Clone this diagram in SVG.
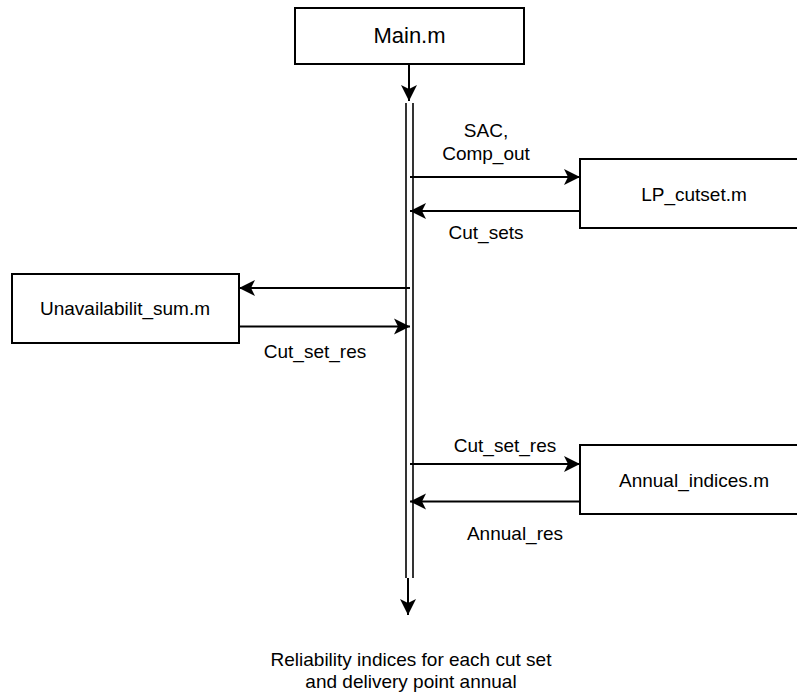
<svg xmlns="http://www.w3.org/2000/svg" width="797" height="693" viewBox="0 0 797 693">
  <style>
    .box { fill: #ffffff; stroke: #000000; stroke-width: 2; }
    .txt { font-family: "Liberation Sans", Arial, Helvetica, sans-serif; fill: #000000; text-anchor: middle; }
    .node-txt { font-size: 19px; }
    .lbl { font-size: 19px; }
    .wire { fill: none; stroke: #000000; stroke-width: 2; }
    .bus { fill: none; stroke: #000000; stroke-width: 1.6; }
  </style>
  <defs>
    <marker id="arrow" markerUnits="userSpaceOnUse" markerWidth="18" markerHeight="18" viewBox="-17 -9 18 18" refX="0" refY="0" orient="auto">
      <path d="M0,0 L-16,-8 L-12,0 L-16,8 Z" fill="#000000"/>
    </marker>
  </defs>

  <rect width="797" height="693" fill="#ffffff"/>

  <!-- connectors -->
  <g id="connectors">
    <!-- main flow down from Main.m into the bus -->
    <line class="wire" x1="409" y1="64" x2="409" y2="101" marker-end="url(#arrow)"/>
    <!-- double bus line -->
    <line class="bus" x1="406" y1="103" x2="406" y2="578"/>
    <line class="bus" x1="413" y1="103" x2="413" y2="578"/>
    <!-- bus output -->
    <line class="wire" x1="408" y1="578" x2="408" y2="615" marker-end="url(#arrow)"/>

    <!-- LP_cutset exchange -->
    <line class="wire" x1="410" y1="177" x2="580" y2="177" marker-end="url(#arrow)"/>
    <line class="wire" x1="580" y1="211" x2="410" y2="211" marker-end="url(#arrow)"/>

    <!-- Unavailabilit_sum exchange -->
    <line class="wire" x1="410" y1="288" x2="239" y2="288" marker-end="url(#arrow)"/>
    <line class="wire" x1="239" y1="326.5" x2="410" y2="326.5" marker-end="url(#arrow)"/>

    <!-- Annual_indices exchange -->
    <line class="wire" x1="410" y1="464" x2="580" y2="464" marker-end="url(#arrow)"/>
    <line class="wire" x1="580" y1="501.5" x2="410" y2="501.5" marker-end="url(#arrow)"/>
  </g>

  <!-- connector labels -->
  <g id="labels">
    <text class="txt lbl" x="486" y="137">SAC,</text>
    <text class="txt lbl" x="486" y="160">Comp_out</text>
    <text class="txt lbl" x="486" y="239">Cut_sets</text>
    <text class="txt lbl" x="315" y="358">Cut_set_res</text>
    <text class="txt lbl" x="505" y="452">Cut_set_res</text>
    <text class="txt lbl" x="515" y="540">Annual_res</text>
  </g>

  <g id="main">
    <rect class="box" x="295" y="8" width="229" height="56"/>
    <text class="txt" x="409.5" y="43" font-size="22">Main.m</text>
  </g>

  <g id="lp-cutset">
    <rect class="box" x="580" y="159" width="230" height="69"/>
    <text class="txt node-txt" x="694" y="201">LP_cutset.m</text>
  </g>

  <g id="unavailabilit-sum">
    <rect class="box" x="12" y="274" width="227" height="69"/>
    <text class="txt node-txt" x="125" y="315">Unavailabilit_sum.m</text>
  </g>

  <g id="annual-indices">
    <rect class="box" x="580" y="445" width="230" height="69"/>
    <text class="txt node-txt" x="694" y="486.5">Annual_indices.m</text>
  </g>

  <g id="result">
    <text class="txt lbl" x="411" y="666">Reliability indices for each cut set</text>
    <text class="txt lbl" x="411" y="688">and delivery point annual</text>
  </g>
</svg>
